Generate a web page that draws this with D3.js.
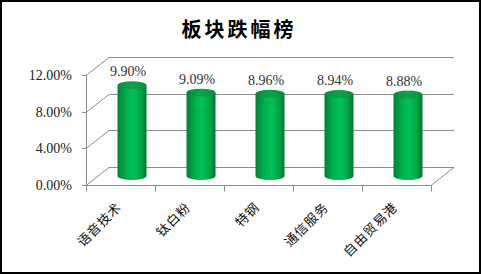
<!DOCTYPE html>
<html><head><meta charset="utf-8">
<script src="https://cdn.jsdelivr.net/npm/d3@7"></script>
<style>body{margin:0;background:#fff}svg{display:block}</style>
</head><body>
<script>
const title = "板块跌幅榜";
const categories = ["语音技术","钛白粉","特钢","通信服务","自由贸易港"];
const values = [9.90, 9.09, 8.96, 8.94, 8.88];
const yTicks = [0, 4, 8, 12];

(function(){
const W = 481, H = 274;
const svg = d3.select("body").append("svg").attr("width", W).attr("height", H);

const pLeft = 86, pRight = 431, pBottom = 185, pTop = 75;
const dx = 23, dy = -18;
const x = d3.scaleBand().domain(categories).range([pLeft, pRight]);
const y = d3.scaleLinear().domain([0, 12]).range([pBottom, pTop]);
const gridColor = "#8c8c8c";

const defs = svg.append("defs");
const g1 = defs.append("linearGradient").attr("id","body").attr("x1","0").attr("x2","1").attr("y1","0").attr("y2","0");
[["0%","#077d38"],["30%","#00b04c"],["55%","#00c256"],["80%","#00a548"],["100%","#06752f"]].forEach(s=>g1.append("stop").attr("offset",s[0]).attr("stop-color",s[1]));
const g2 = defs.append("linearGradient").attr("id","topc").attr("x1","0").attr("x2","1").attr("y1","0").attr("y2","0");
[["0%","#0a8a3e"],["50%","#0ea34a"],["100%","#0a8a3e"]].forEach(s=>g2.append("stop").attr("offset",s[0]).attr("stop-color",s[1]));

svg.append("rect").attr("x",1).attr("y",1).attr("width",W-2).attr("height",H-2)
  .attr("fill","none").attr("stroke","#000").attr("stroke-width",2);

svg.append("text").attr("x",239).attr("y",37).attr("text-anchor","middle")
  .attr("font-family","'Noto Sans CJK SC'").attr("font-weight","bold").attr("font-size",20)
  .attr("letter-spacing",3).attr("fill","#000").text(title);

const grid = svg.append("g").attr("stroke",gridColor).attr("stroke-width",1).attr("fill","none");
yTicks.forEach(t=>{
  const yy = Math.round(y(t))+0.5;
  grid.append("line").attr("x1",pLeft+dx).attr("x2",pRight+dx).attr("y1",yy+dy).attr("y2",yy+dy);
  grid.append("line").attr("x1",pLeft).attr("x2",pLeft+dx).attr("y1",yy).attr("y2",yy+dy);
  grid.append("line").attr("x1",pLeft-4).attr("x2",pLeft).attr("y1",yy).attr("y2",yy);
});
grid.append("line").attr("x1",pLeft+0.5).attr("x2",pLeft+0.5).attr("y1",y(12)).attr("y2",y(0)+0.5);
const fy = Math.round(y(0))+0.5;
grid.append("line").attr("x1",pLeft).attr("x2",pRight).attr("y1",fy).attr("y2",fy);
grid.append("line").attr("x1",pRight).attr("x2",pRight+dx).attr("y1",fy).attr("y2",fy+dy);
const tickXs = categories.map(c=>x(c)).concat([pRight]);
tickXs.forEach(tx=>{
  grid.append("line").attr("x1",Math.round(tx)+0.5).attr("x2",Math.round(tx)+0.5).attr("y1",fy).attr("y2",fy+6);
});

svg.append("g").selectAll("text").data(yTicks).join("text")
  .attr("x",72).attr("y",t=>y(t)+5).attr("text-anchor","end")
  .attr("font-family","'Liberation Serif'").attr("font-size",14).attr("fill","#222")
  .text(t=>t.toFixed(2)+"%");

const bw = 29, ry = 4;
const bars = svg.append("g");
categories.forEach((c,i)=>{
  const cx = x(c)+x.bandwidth()/2 + dx/2;
  const yb = y(0) + dy/2;
  const yt = y(values[i]) + dy/2;
  const rx = bw/2;
  const path = `M${cx-rx},${yt} L${cx-rx},${yb} A${rx},${ry} 0 0 0 ${cx+rx},${yb} L${cx+rx},${yt} Z`;
  bars.append("path").attr("d",path).attr("fill","url(#body)");
  bars.append("ellipse").attr("cx",cx).attr("cy",yt).attr("rx",rx).attr("ry",ry).attr("fill","url(#topc)");
  svg.append("text").attr("x",cx-4).attr("y",yt-9).attr("text-anchor","middle")
    .attr("font-family","'Liberation Serif'").attr("font-size",14).attr("fill","#333")
    .text(values[i].toFixed(2)+"%");
});

svg.append("g").selectAll("text").data(categories).join("text")
  .attr("transform",c=>`translate(${x(c)+x.bandwidth()/2+2},208) rotate(-45)`)
  .attr("text-anchor","end")
  .attr("font-family","'Noto Sans CJK SC'").attr("font-size",13).attr("fill","#111")
  .attr("letter-spacing",1)
  .text(c=>c);
})();
</script>
</body></html>
